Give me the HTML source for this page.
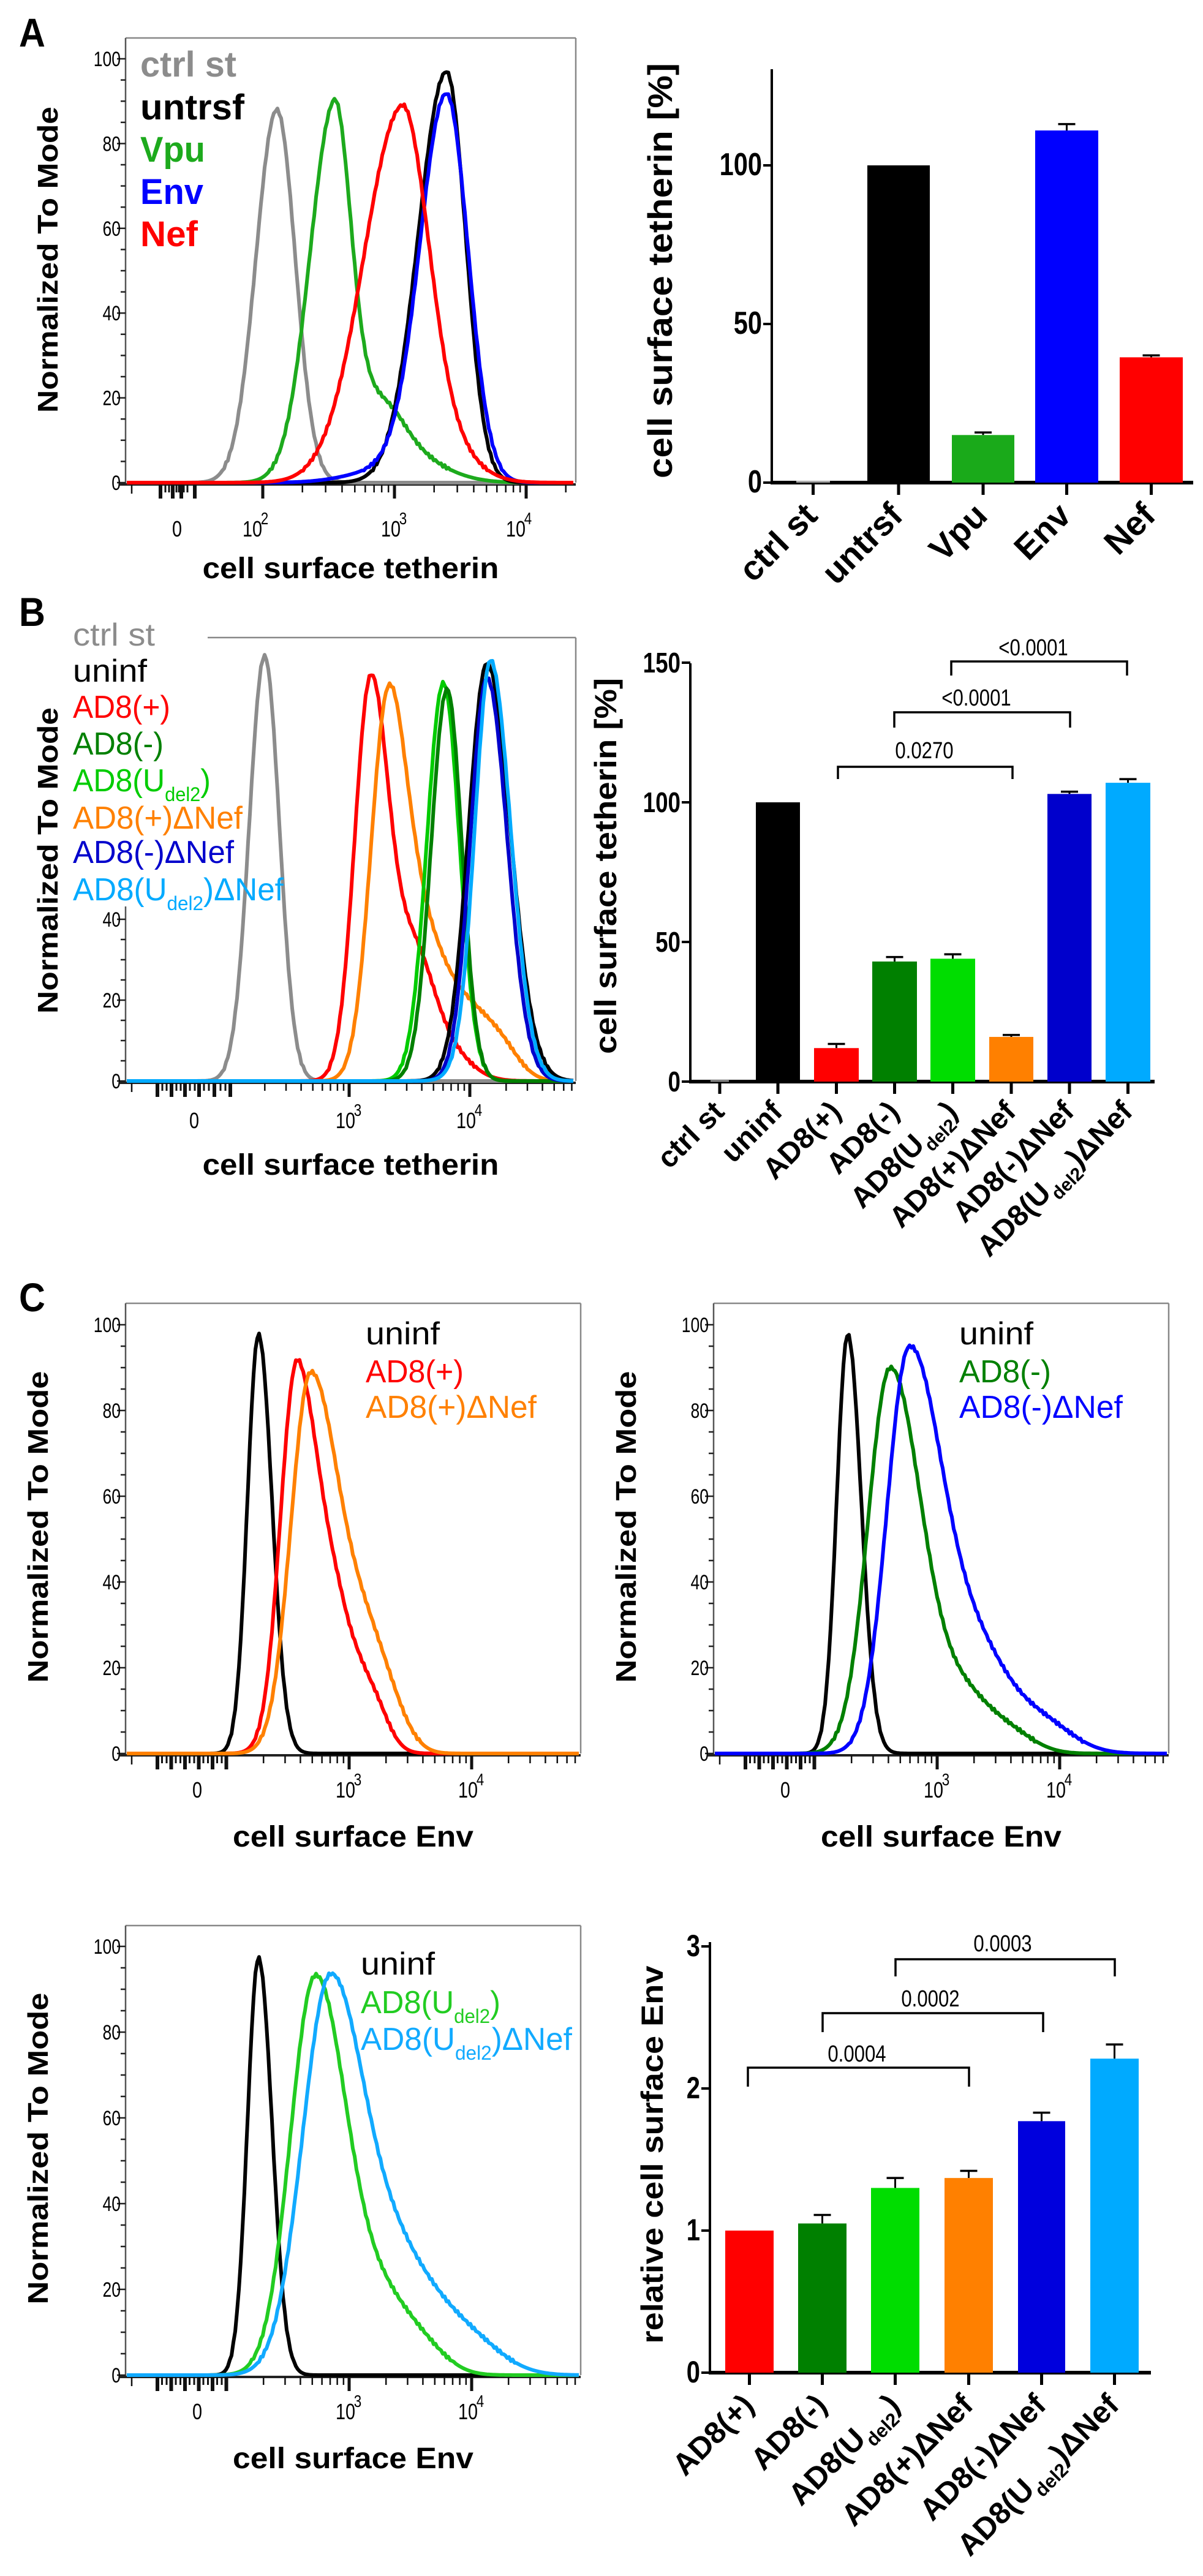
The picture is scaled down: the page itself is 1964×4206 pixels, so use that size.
<!DOCTYPE html>
<html><head><meta charset="utf-8"><style>
html,body{margin:0;padding:0;background:#fff}
svg{display:block}
text{font-family:"Liberation Sans",Arial,sans-serif}
</style></head><body>
<svg id="s" xmlns="http://www.w3.org/2000/svg" width="1964" height="4206" viewBox="0 0 1964 4206"></svg>
<script>
const NS="http://www.w3.org/2000/svg";const S=document.getElementById('s');
function el(t,a,p){const e=document.createElementNS(NS,t);for(const k in a)e.setAttribute(k,a[k]);(p||S).appendChild(e);return e;}
function T(x,y,str,o){o=o||{};const sz=o.size||40;
 const e=el('text',{x:0,y:0,'font-size':sz,'font-weight':o.bold?'bold':'normal',fill:o.fill||'#000','text-anchor':o.anchor||'start'});
 e.innerHTML=str;let sc=o.sx||1;
 if(o.w){const L=e.getComputedTextLength();if(L>0)sc=o.w/L;}
 e.setAttribute('transform',`translate(${x},${y}) rotate(${o.rot||0}) scale(${sc},1)`);return e;}
function sub(base,s,sz){return `${base}<tspan font-size="${Math.round(sz*0.62)}" dy="${Math.round(sz*0.3)}">${s}</tspan><tspan dy="${-Math.round(sz*0.3)}">`;}
function L(x1,y1,x2,y2,c,w){return el('line',{x1,y1,x2,y2,stroke:c||'#000','stroke-width':w||3});}

function hist(b){
 if(b.topStart){L(b.topStart,b.top,b.x1,b.top,'#888',2.5);}else L(b.x0,b.top,b.x1,b.top,'#888',2.5);
 L(b.x1,b.top,b.x1,b.base,'#888',2.5);
 if(!b.noLeft)L(b.x0,b.top,b.x0,b.base+2,'#555',2.5);else L(b.x0,b.leftTop,b.x0,b.base+2,'#555',2.5);
 for(let v=0;v<=100;v+=5){const y=b.base-v*b.k;if(y<(b.leftTop||b.top))continue;const maj=v%20==0;L(b.x0-(maj?14:8),y,b.x0,y,'#222',2.5);
  if(maj)T(b.x0-8,y+12,String(v),{size:34,anchor:'end',sx:0.78});}
 L(b.x0-10,b.base+3,b.x1,b.base+3,'#222',4);
 const d=b.dec;
 for(let e=-1;e<4;e++){for(let m=1;m<10;m++){const p=d[0]+(e+Math.log10(m))*d[1];
  if(p<b.zeroEnd||p>b.x1)continue;L(p,b.base+3,p,b.base+(m==1?26:16),'#111',m==1?5:2.5);}}
 for(let i=0;i<b.cl.length;i++){const p=b.cl[i];L(p,b.base+3,p,b.base+(i%3==0?26:16),'#111',i%3==0?6:3);}
 L(b.x0+10,b.base+3,b.x0+10,b.base+18,'#111',2.5);
 T(b.zx,b.labY,'0',{size:36,anchor:'middle',sx:0.8});
 b.decLab.forEach(([x,e])=>{T(x-6,b.labY,'10',{size:36,anchor:'middle',sx:0.8});T(x+14,b.labY-20,String(e),{size:28,anchor:'middle',sx:0.8});});
 T((b.x0+b.x1)/2,b.xlY,b.xl,{size:48,bold:true,anchor:'middle',w:b.xlW});
 T(b.ytx,b.yty,'Normalized To Mode',{size:46,bold:true,anchor:'middle',rot:-90,w:b.ytW});
}
function curves(b,list){
 list.forEach(c=>{let d='';for(let x=b.x0+2;x<=b.x1-2;x+=3){let v=0;c.p.forEach(q=>{const dx=x-q[0];const s=dx<0?q[2]:q[3];v+=q[1]*Math.exp(-dx*dx/(2*s*s));});
  const j=v>20?Math.sin(x*0.9+c.p[0][0])*2.5:0;let y=b.base-v+j;y=Math.min(y,b.base);d+=(d?'L':'M')+x+','+y.toFixed(1);}
  el('path',{d,fill:'none',stroke:c.c,'stroke-width':6,'stroke-linejoin':'round'});});
}
function bars(o){
 L(o.ax,o.top,o.ax,o.y0+3,'#000',4);
 L(o.ax,o.y0,o.xEnd,o.y0,'#000',6);
 o.yt.forEach(([v,lab])=>{const y=o.y0-v*o.k;L(o.ax-14,y,o.ax,y,'#000',4);T(o.ax-16,y+16,lab,{size:o.ysz,bold:true,anchor:'end',sx:0.8});});
 o.b.forEach(r=>{const y=o.y0-r.v*o.k;const cx=(r.x0+r.x1)/2;
  if(r.e){const ye=o.y0-(r.v+r.e)*o.k;L(cx,ye,cx,y,'#000',3);L(cx-14,ye,cx+14,ye,'#000',3.5);}
  el('rect',{x:r.x0,y:y,width:r.x1-r.x0,height:o.y0-y,fill:r.c});
  L(cx,o.y0,cx,o.y0+20,'#000',5);
  T(cx+10,o.y0+o.ly,r.l,{size:o.lsz,bold:true,anchor:'end',rot:-45});});
 (o.br||[]).forEach(q=>{const [xa,xb,y,y2,lab,lx,lyy]=q;el('polyline',{points:`${xa},${y2} ${xa},${y} ${xb},${y} ${xb},${y2}`,fill:'none',stroke:'#000','stroke-width':3.5});
  T(lx,lyy,lab,{size:38,anchor:'middle',sx:0.82});});
 T(o.tx,o.ty,o.title,{size:o.tsz,bold:true,anchor:'middle',rot:-90,w:o.tw});
}

// ===== Panel A =====
T(31,76,'A',{size:66,sx:0.9,bold:true});
const A={x0:205,x1:940,top:62,base:788,k:6.92,dec:[644,215],zeroEnd:330,cl:[262,270,276,282,288,292,296,300,306,318],zx:289,
 decLab:[[418,2],[644,3],[848,4]],labY:876,xl:'cell surface tetherin',xlY:944,xlW:484,ytx:94,yty:424,ytW:500};
hist(A);
curves(A,[
 {c:'#8c8c8c',p:[[452,609,34,30]]},
 {c:'#1daa1d',p:[[545,595,40,27],[610,110,40,40],[660,45,40,60]]},
 {c:'#000',p:[[729,671,46,31]]},
 {c:'#0000ff',p:[[729,630,43,35],[630,20,60,60]]},
 {c:'#ff0000',p:[[655,600,62,42],[720,60,40,50]]}]);
[['ctrl st','#8c8c8c',125,157],['untrsf','#000',195,170],['Vpu','#1daa1d',264,106],['Env','#0000ff',333,103],['Nef','#ff0000',402,94]].forEach(([t,c,y,w])=>T(229,y,t,{size:58,bold:true,fill:c,w}));
bars({ax:1260,top:113,y0:788,xEnd:1948,k:5.18,yt:[[0,'0'],[50,'50'],[100,'100']],ysz:52,lsz:56,ly:57,
 b:[{x0:1300,x1:1355,v:0.6,c:'#aaa',l:'ctrl st'},{x0:1416,x1:1518,v:100,c:'#000',l:'untrsf'},{x0:1554,x1:1656,v:15,e:0.8,c:'#1aaa1a',l:'Vpu'},
  {x0:1690,x1:1793,v:111,e:2,c:'#0000ff',l:'Env'},{x0:1828,x1:1931,v:39.5,e:0.6,c:'#ff0000',l:'Nef'}],
 tx:1097,ty:442,title:'cell surface tetherin [%]',tsz:56,tw:678});

// ===== Panel B =====
T(31,1022,'B',{size:66,sx:0.9,bold:true});
const B={x0:205,x1:940,top:1041,topStart:339,noLeft:true,leftTop:1480,base:1765,k:6.6,dec:[570,197],zeroEnd:385,cl:[257,265,272,280,288,295,302,310,318,325,333,341,350,360,368,376],zx:317,
 decLab:[[570,3],[767,4]],labY:1842,xl:'cell surface tetherin',xlY:1918,xlW:484,ytx:94,yty:1405,ytW:500};
hist(B);
curves(B,[
 {c:'#8c8c8c',p:[[432,694,25,24]]},
 {c:'#ff0000',p:[[605,651,26,30],[675,170,30,30],[720,60,40,40]]},
 {c:'#ff8000',p:[[633,610,28,30],[690,200,30,35],[760,110,40,40],[820,40,30,30]]},
 {c:'#00cc00',p:[[724,650,27,26]]},
 {c:'#008000',p:[[730,640,26,24]]},
 {c:'#000',p:[[795,682,30,38]]},
 {c:'#0000cc',p:[[795,658,27,33]]},
 {c:'#00aaff',p:[[802,613,25,33],[790,80,30,30]]}]);
const lb=[['ctrl st','#8c8c8c',1054,134],['uninf','#000',1113,121],['AD8(+)','#ff0000',1172,159],['AD8(-)','#008000',1232,148],
 [sub('AD8(U','del2',52)+')</tspan>','#00cc00',1292,225],['AD8(+)ΔNef','#ff8000',1353,277],['AD8(-)ΔNef','#0000cc',1409,263],[sub('AD8(U','del2',52)+')ΔNef</tspan>','#00aaff',1470,344]];
lb.forEach(([t,c,y,w])=>T(119,y,t,{size:52,fill:c,w}));
bars({ax:1127,top:1083,y0:1766,xEnd:1885,k:4.56,yt:[[0,'0'],[50,'50'],[100,'100'],[150,'150']],ysz:46,lsz:48,ly:52,
 b:[{x0:1160,x1:1190,v:0.5,c:'#aaa',l:'ctrl st'},{x0:1234,x1:1306,v:100,c:'#000',l:'uninf'},{x0:1329,x1:1402,v:12,e:1.5,c:'#ff0000',l:'AD8(+)'},
  {x0:1424,x1:1497,v:43,e:1.6,c:'#008000',l:'AD8(-)'},{x0:1519,x1:1592,v:44,e:1.6,c:'#00dd00',l:sub('AD8(U','del2',48)+')</tspan>'},
  {x0:1615,x1:1687,v:16,e:0.7,c:'#ff8000',l:'AD8(+)ΔNef'},{x0:1710,x1:1782,v:103,e:0.8,c:'#0000cc',l:'AD8(-)ΔNef'},
  {x0:1805,x1:1878,v:107,e:1.3,c:'#00aaff',l:sub('AD8(U','del2',48)+')ΔNef</tspan>'}],
 br:[[1368,1653,1252,1272,'0.0270',1509,1238],[1460,1747,1163,1188,'&lt;0.0001',1594,1152],[1553,1840,1080,1103,'&lt;0.0001',1687,1070]],
 tx:1006,ty:1414,title:'cell surface tetherin [%]',tsz:50,tw:614});

// ===== Panel C =====
T(31,2141,'C',{size:66,sx:0.9,bold:true});
function cbox(x0,top,base,labs,curveList,leg,legX){
 const b={x0,x1:x0+743,top,base,k:7.0,dec:[x0+365,200],zeroEnd:x0+175,cl:[],zx:x0+117,decLab:[[x0+365,3],[x0+565,4]],labY:base+72,
  xl:'cell surface Env',xlY:base+152,xlW:393,ytx:x0-127,yty:base-370,ytW:509};
 for(let i=0;i<16;i++)b.cl.push(x0+52+i*7.5);
 hist(b);curves(b,curveList);
 leg.forEach(([t,c,dy,w])=>T(legX,top+dy,t,{size:52,fill:c,w}));
}
cbox(205,2128,2863,null,[
 {c:'#000',p:[[422,684,18,22]]},
 {c:'#ff0000',p:[[488,600,28,40],[470,60,20,20],[560,120,25,35],[610,60,30,25]]},
 {c:'#ff8000',p:[[507,619,32,48],[600,130,35,35],[640,40,30,30]]}],
 [['uninf','#000',67,121],['AD8(+)','#ff0000',129,160],['AD8(+)ΔNef','#ff8000',187,279]],597);
cbox(1165,2128,2863,null,[
 {c:'#000',p:[[1384,684,18,22]]},
 {c:'#008000',p:[[1453,624,36,50],[1570,90,50,45],[1650,30,40,40]]},
 {c:'#0000ff',p:[[1484,655,36,55],[1600,140,50,50],[1700,50,50,50]]}],
 [['uninf','#000',67,121],['AD8(-)','#008000',129,150],['AD8(-)ΔNef','#0000ff',187,267]],1566);
cbox(205,3144,3878,null,[
 {c:'#000',p:[[422,681,18,22]]},
 {c:'#22cc22',p:[[514,641,40,50],[620,110,50,45],[690,40,40,40]]},
 {c:'#11aaff',p:[[539,647,45,58],[660,150,50,55],[760,60,55,55]]}],
 [['uninf','#000',80,121],[sub('AD8(U','del2',52)+')</tspan>','#22cc22',143,228],[sub('AD8(U','del2',52)+')ΔNef</tspan>','#11aaff',203,345]],589);
bars({ax:1159,top:3171,y0:3874,xEnd:1879,k:232,yt:[[0,'0'],[1,'1'],[2,'2'],[3,'3']],ysz:50,lsz:50,ly:56,
 b:[{x0:1184,x1:1263,v:1.0,c:'#ff0000',l:'AD8(+)'},{x0:1303,x1:1382,v:1.05,e:0.06,c:'#008000',l:'AD8(-)'},
  {x0:1422,x1:1501,v:1.3,e:0.07,c:'#00dd00',l:sub('AD8(U','del2',50)+')</tspan>'},{x0:1542,x1:1621,v:1.37,e:0.05,c:'#ff8000',l:'AD8(+)ΔNef'},
  {x0:1662,x1:1739,v:1.77,e:0.06,c:'#0000dd',l:'AD8(-)ΔNef'},{x0:1780,x1:1859,v:2.21,e:0.1,c:'#00aaff',l:sub('AD8(U','del2',50)+')ΔNef</tspan>'}],
 br:[[1221,1582,3376,3407,'0.0004',1399,3366],[1343,1703,3287,3318,'0.0002',1519,3276],[1462,1820,3199,3227,'0.0003',1637,3186]],
 tx:1082,ty:3518,title:'relative cell surface Env',tsz:50,tw:617});
</script>
</body></html>
